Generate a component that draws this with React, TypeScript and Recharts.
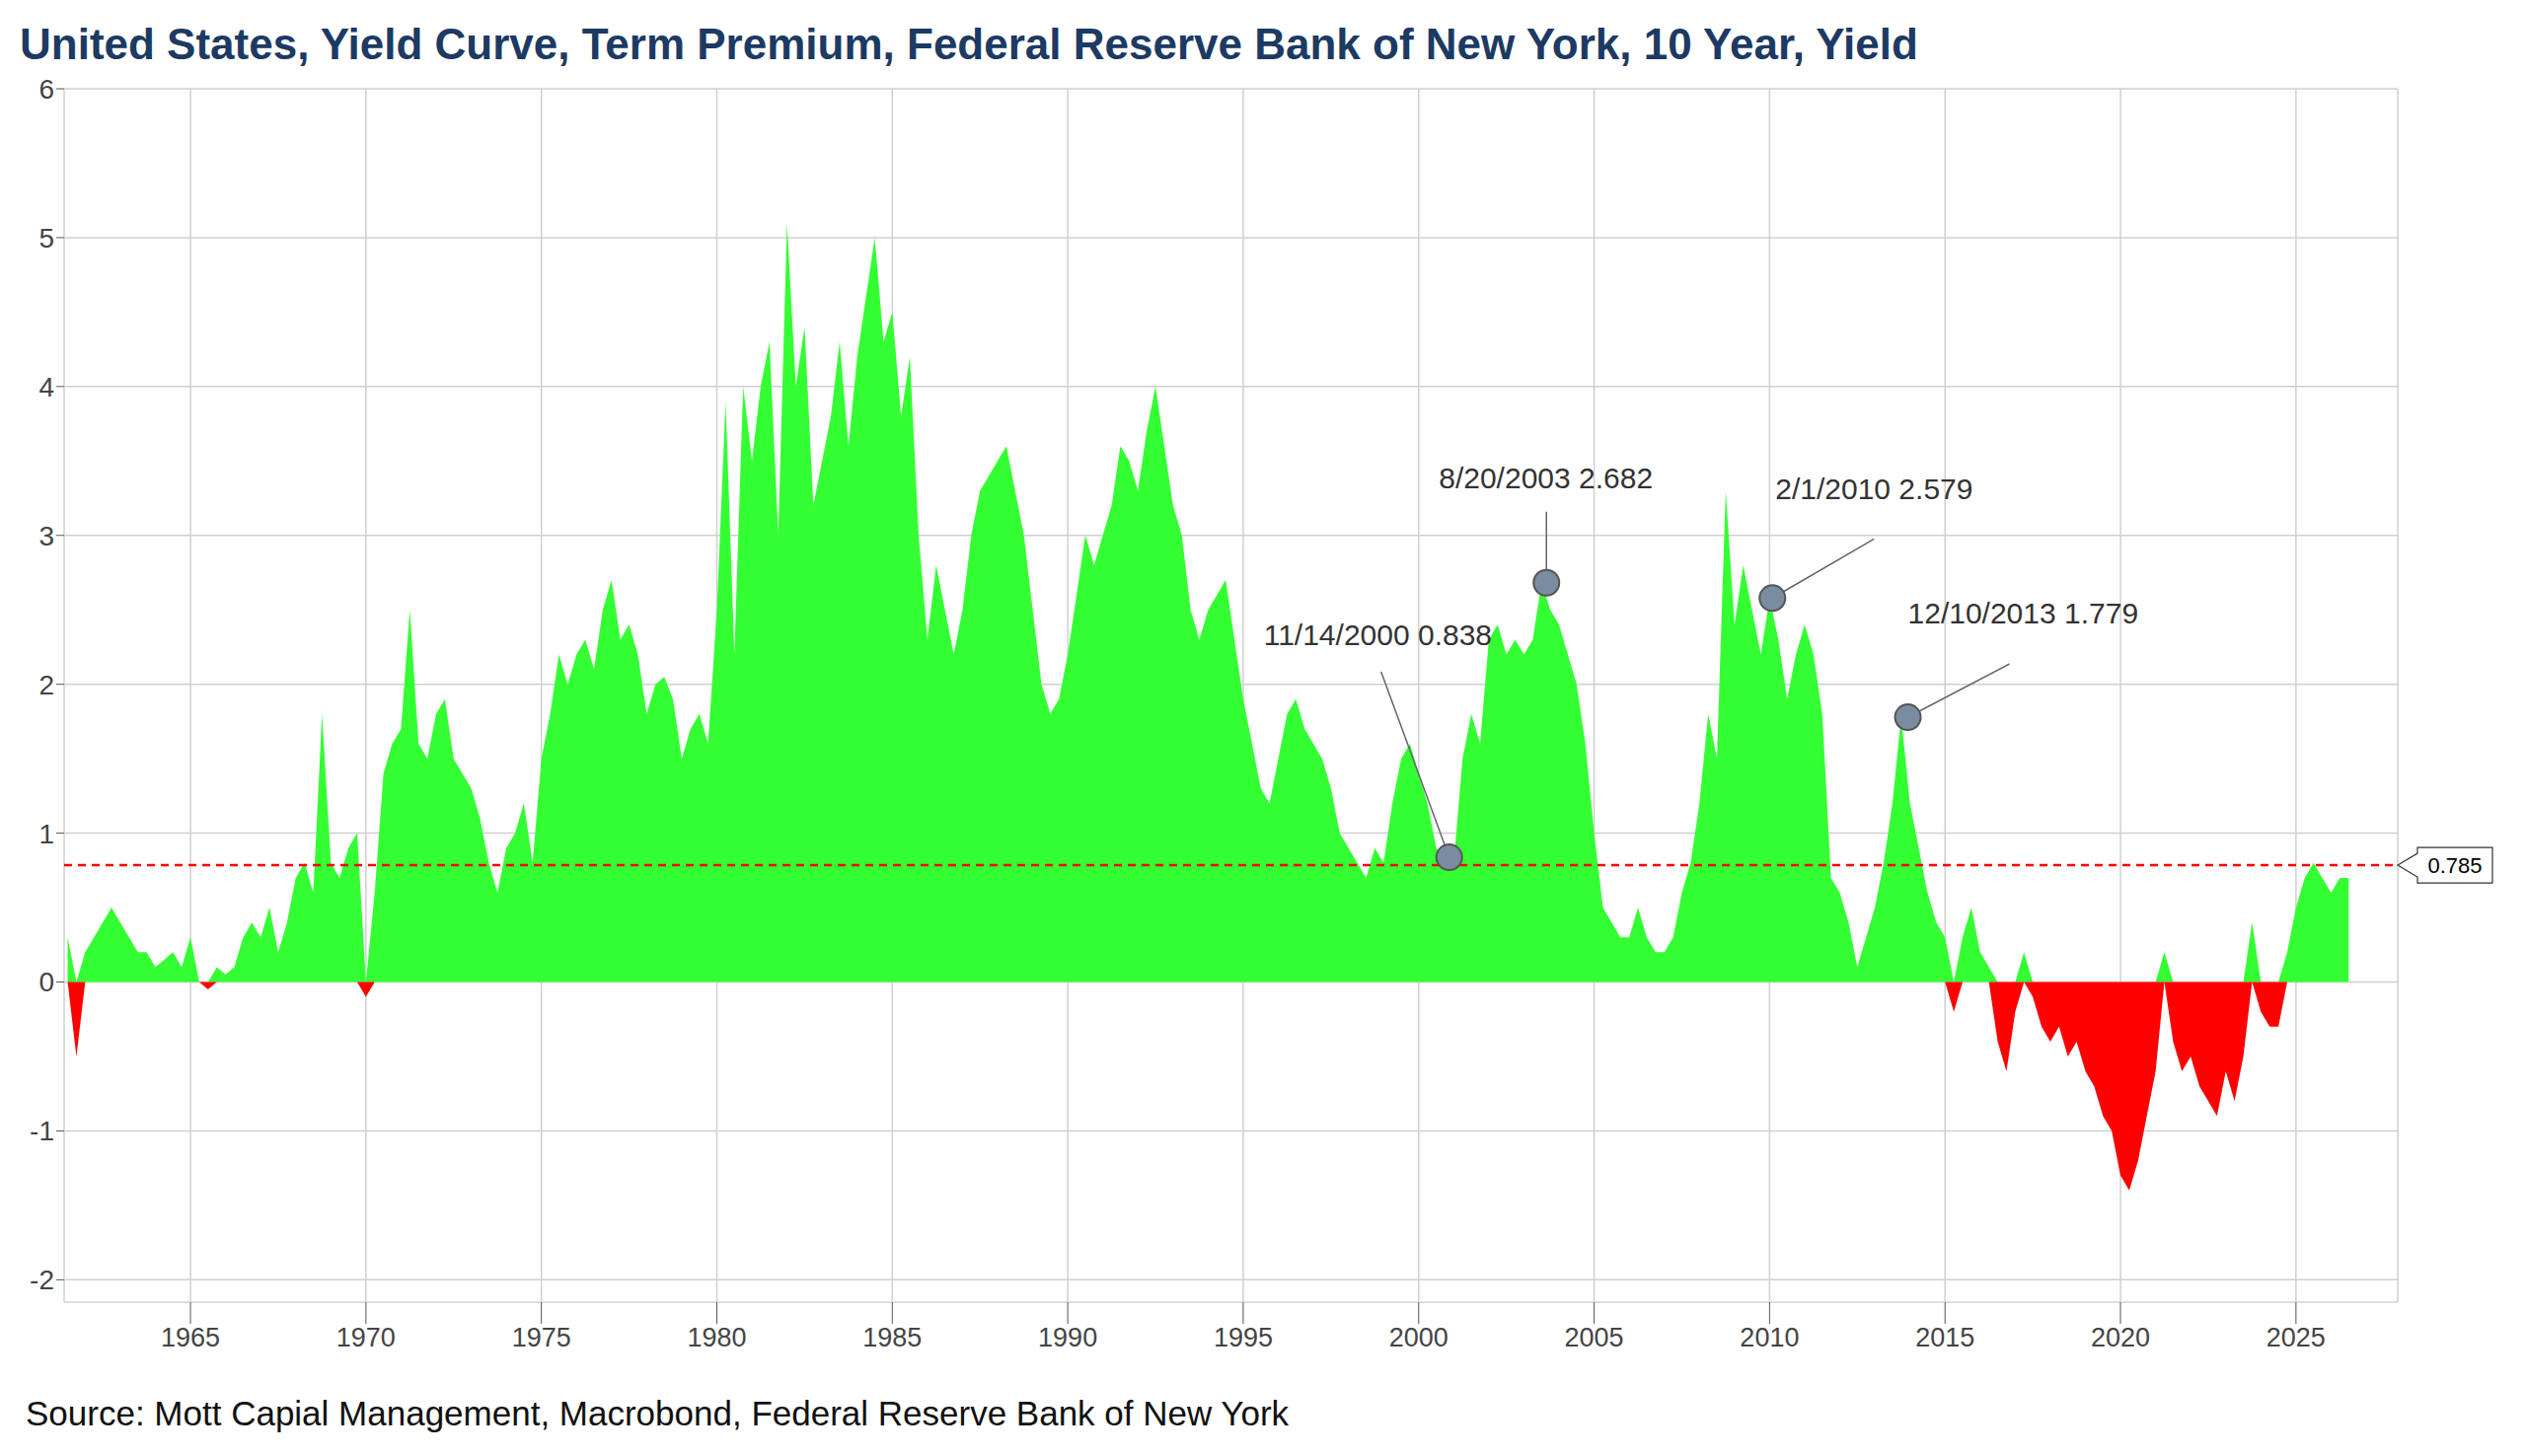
import React from "react";
import { ComposedChart, Area, XAxis, YAxis, CartesianGrid, ReferenceLine, ReferenceDot } from "recharts";

const START_YEAR = 1961.5;
const STEP = 0.25;
const termPremium: number[] = [
  0.3, -0.5,
  0.2, 0.3, 0.4, 0.5,
  0.4, 0.3, 0.2, 0.2,
  0.1, 0.15, 0.2, 0.1,
  0.3, 0.0, -0.05, 0.1,
  0.05, 0.1, 0.3, 0.4,
  0.3, 0.5, 0.2, 0.4,
  0.7, 0.8, 0.6, 1.8,
  0.8, 0.7, 0.9, 1.0,
  -0.1, 0.6, 1.4, 1.6,
  1.7, 2.5, 1.6, 1.5,
  1.8, 1.9, 1.5, 1.4,
  1.3, 1.1, 0.8, 0.6,
  0.9, 1.0, 1.2, 0.8,
  1.5, 1.8, 2.2, 2.0,
  2.2, 2.3, 2.1, 2.5,
  2.7, 2.3, 2.4, 2.2,
  1.8, 2.0, 2.05, 1.9,
  1.5, 1.7, 1.8, 1.6,
  2.5, 3.9, 2.2, 4.0,
  3.5, 4.0, 4.3, 3.0,
  5.1, 4.0, 4.4, 3.2,
  3.5, 3.8, 4.3, 3.6,
  4.2, 4.6, 5.0, 4.3,
  4.5, 3.8, 4.2, 3.0,
  2.3, 2.8, 2.5, 2.2,
  2.5, 3.0, 3.3, 3.4,
  3.5, 3.6, 3.3, 3.0,
  2.5, 2.0, 1.8, 1.9,
  2.2, 2.6, 3.0, 2.8,
  3.0, 3.2, 3.6, 3.5,
  3.3, 3.7, 4.0, 3.6,
  3.2, 3.0, 2.5, 2.3,
  2.5, 2.6, 2.7, 2.3,
  1.9, 1.6, 1.3, 1.2,
  1.5, 1.8, 1.9, 1.7,
  1.6, 1.5, 1.3, 1.0,
  0.9, 0.8, 0.7, 0.9,
  0.8, 1.2, 1.5, 1.6,
  1.4, 1.2, 0.9, 0.84,
  0.8, 1.5, 1.8, 1.6,
  2.3, 2.4, 2.2, 2.3,
  2.2, 2.3, 2.68, 2.5,
  2.4, 2.2, 2.0, 1.6,
  1.0, 0.5, 0.4, 0.3,
  0.3, 0.5, 0.3, 0.2,
  0.2, 0.3, 0.6, 0.8,
  1.2, 1.8, 1.5, 3.3,
  2.4, 2.8, 2.5, 2.2,
  2.58, 2.3, 1.9, 2.2,
  2.4, 2.2, 1.8, 0.7,
  0.6, 0.4, 0.1, 0.3,
  0.5, 0.8, 1.2, 1.78,
  1.2, 0.9, 0.6, 0.4,
  0.3, -0.2, 0.3, 0.5,
  0.2, 0.1, -0.4, -0.6,
  -0.2, 0.2, -0.1, -0.3,
  -0.4, -0.3, -0.5, -0.4,
  -0.6, -0.7, -0.9, -1.0,
  -1.3, -1.4, -1.2, -0.9,
  -0.6, 0.2, -0.4, -0.6,
  -0.5, -0.7, -0.8, -0.9,
  -0.6, -0.8, -0.5, 0.4,
  -0.2, -0.3, -0.3, 0.2,
  0.5, 0.7, 0.8, 0.7,
  0.6, 0.7, 0.7,
];

const xTicks = [1965, 1970, 1975, 1980, 1985, 1990, 1995, 2000, 2005, 2010, 2015, 2020, 2025];
const yTicks = [-2, -1, 0, 1, 2, 3, 4, 5, 6];
const averageLevel = 0.785;

const annotations = [
  { x: 2000.87, y: 0.838, label: "11/14/2000 0.838", tx: -188, ty: -215, lx1: -69, ly1: -188 },
  { x: 2003.64, y: 2.682, label: "8/20/2003 2.682", tx: -109, ty: -96, lx1: 0, ly1: -72 },
  { x: 2010.08, y: 2.579, label: "2/1/2010 2.579", tx: 3, ty: -100, lx1: 103, ly1: -60 },
  { x: 2013.94, y: 1.779, label: "12/10/2013 1.779", tx: 0, ty: -95, lx1: 103, ly1: -54 },
];

const data = termPremium.map((v, i) => ({
  year: START_YEAR + i * STEP,
  pos: v > 0 ? v : 0,
  neg: v < 0 ? v : 0,
}));

const FONT = "'Liberation Sans', Arial, sans-serif";

const makeDot = (a: typeof annotations[number]) => (props: any) => {
  const { cx, cy } = props;
  const ang = Math.atan2(a.ly1, a.lx1);
  return (
    <g>
      <line x1={cx + a.lx1} y1={cy + a.ly1} x2={cx + Math.cos(ang) * 13} y2={cy + Math.sin(ang) * 13} stroke="#666" strokeWidth={1.5} />
      <circle cx={cx} cy={cy} r={13} fill="#7a8ca0" stroke="#555" strokeWidth={2} />
      <text x={cx + a.tx} y={cy + a.ty} fontSize={30} fill="#333" fontFamily={FONT}>{a.label}</text>
    </g>
  );
};

const AvgLabel = (props: any) => {
  const { viewBox } = props;
  const x = viewBox.x + viewBox.width;
  const y = viewBox.y;
  return (
    <g>
      <path d={`M${x} ${y} L${x + 20} ${y - 12} L${x + 20} ${y - 18} L${x + 96} ${y - 18} L${x + 96} ${y + 18} L${x + 20} ${y + 18} L${x + 20} ${y + 12} Z`} fill="#fff" stroke="#333" strokeWidth={1.2} />
      <text x={x + 58} y={y + 8} textAnchor="middle" fontSize={22} fill="#000" fontFamily={FONT}>{averageLevel}</text>
    </g>
  );
};

export default function App() {
  return (
    <div style={{ position: "relative", width: 2544, height: 1460, fontFamily: FONT, background: "#fff" }}>
      <div style={{ position: "absolute", left: 12, top: 12, fontSize: 44, fontWeight: "bold", color: "#1c3a63", whiteSpace: "nowrap" }}>
        United States, Yield Curve, Term Premium, Federal Reserve Bank of New York, 10 Year, Yield
      </div>
      <div style={{ position: "absolute", left: 18, top: 1405, fontSize: 35, color: "#111", whiteSpace: "nowrap" }}>
        Source: Mott Capial Management, Macrobond, Federal Reserve Bank of New York
      </div>
      <ComposedChart width={2544} height={1400} data={data} margin={{ top: 82, right: 122, bottom: 20, left: 0 }}>
        <CartesianGrid stroke="#d0d0d0" strokeWidth={1.5} />
        <XAxis dataKey="year" type="number" domain={[1961.4, 2027.9]} ticks={xTicks} allowDataOverflow height={68}
          tick={{ fontSize: 27, fill: "#444", fontFamily: FONT }} tickSize={22} tickMargin={4}
          stroke="#e0e0e0" tickLine={{ stroke: "#555" }} />
        <YAxis type="number" domain={[-2.15, 6]} ticks={yTicks} width={57} allowDataOverflow
          tick={{ fontSize: 28, fill: "#444", fontFamily: FONT }} tickSize={8}
          axisLine={false} tickLine={{ stroke: "#555" }} />
        <Area type="linear" dataKey="pos" stroke="none" fill="#33ff33" fillOpacity={1} isAnimationActive={false} />
        <Area type="linear" dataKey="neg" stroke="none" fill="#ff0000" fillOpacity={1} isAnimationActive={false} />
        <ReferenceLine y={averageLevel} stroke="#ff0000" strokeDasharray="8 6" strokeWidth={2.5} label={<AvgLabel />} />
        {annotations.map((a) => (
          <ReferenceDot key={a.label} x={a.x} y={a.y} r={13} shape={makeDot(a)} />
        ))}
      </ComposedChart>
    </div>
  );
}
